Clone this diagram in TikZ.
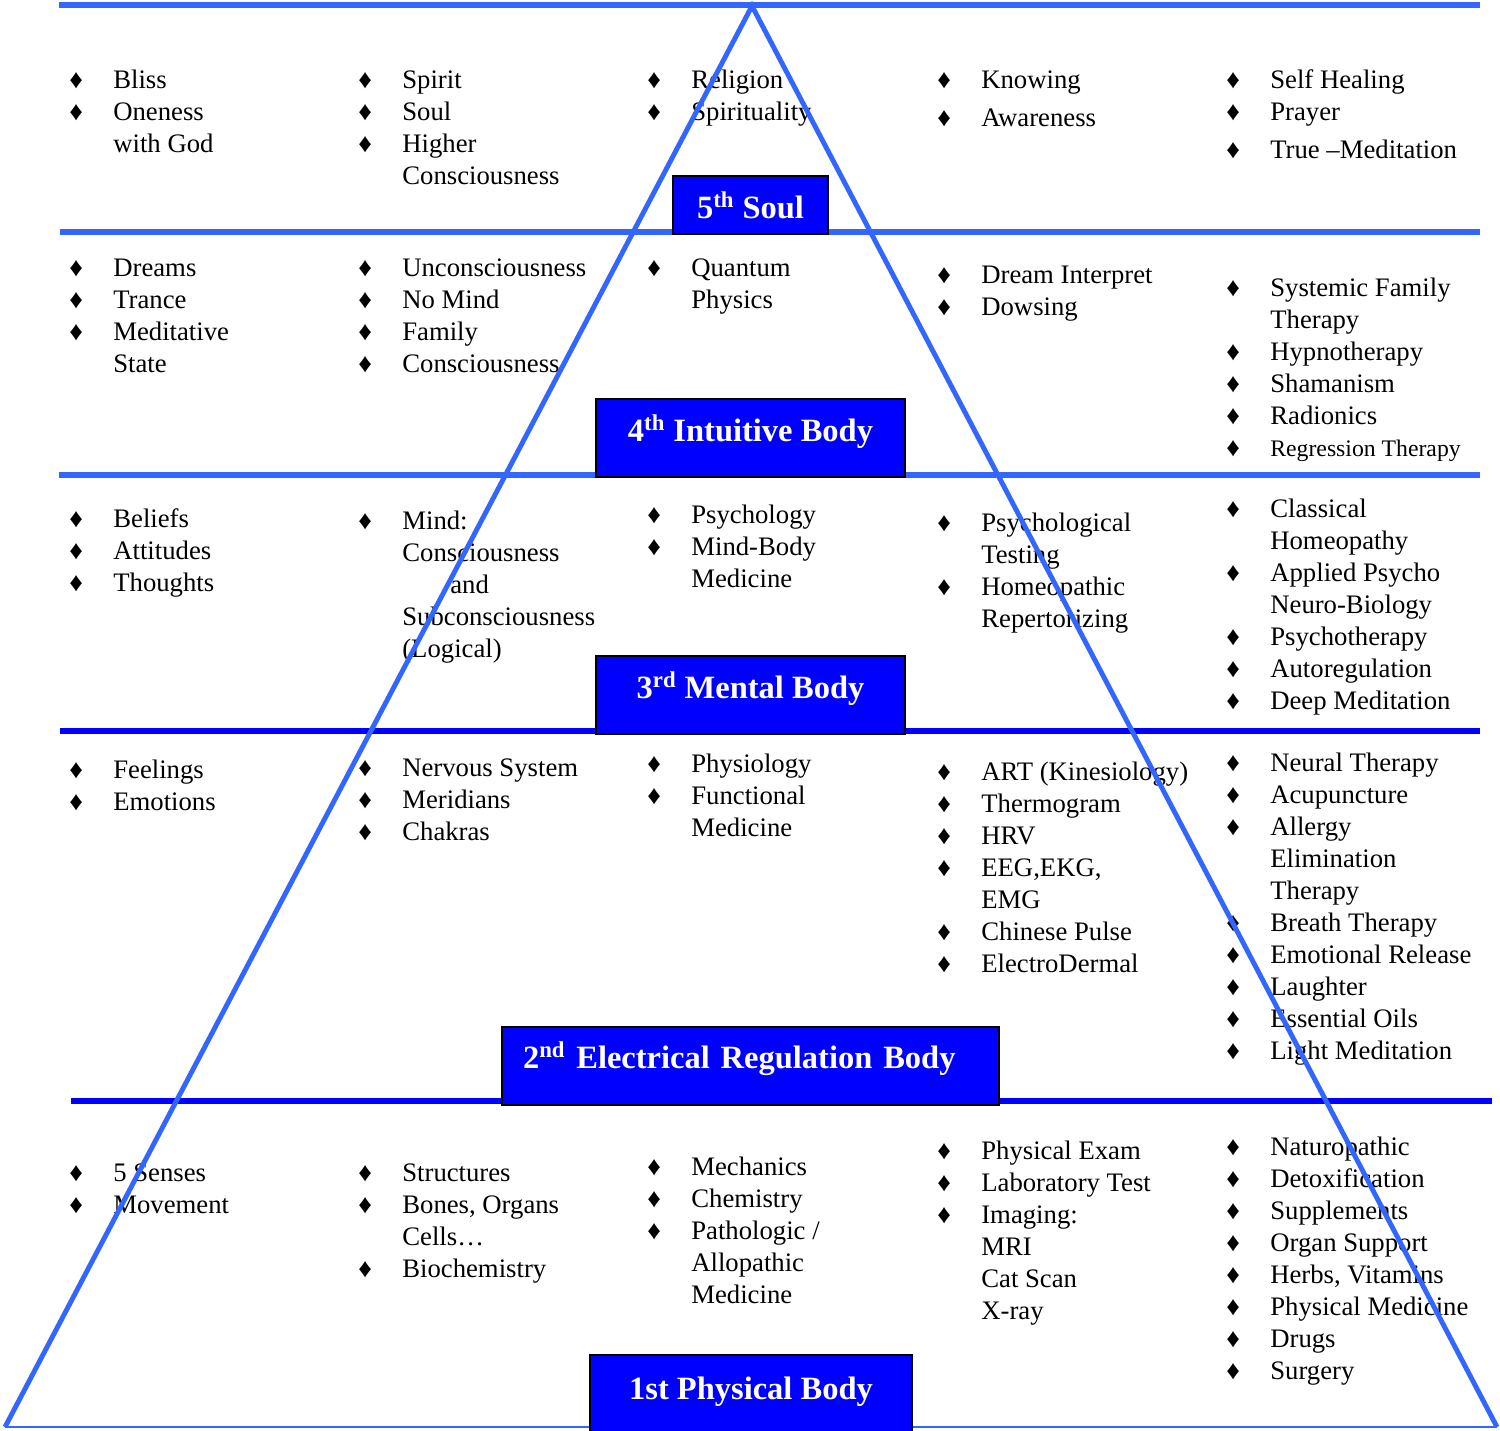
\documentclass[tikz,border=0pt]{standalone}
\usepackage{fontspec}
\setmainfont{Liberation Serif}

\definecolor{lineblue}{HTML}{3366FF}
\definecolor{boxblue}{HTML}{0000FF}

% bullet and empty bullet column
\newcommand{\bl}{\strut\makebox[0.88cm][l]{♦}}
\newcommand{\nb}{\strut\hspace*{0.88cm}}

\tikzset{
  cell/.style={anchor=north west, align=left, inner sep=0pt,
    font=\fontsize{15.2}{18.2}\selectfont},
  titlebox/.style={fill=boxblue, draw=black, line width=1.1pt, text=white,
    inner sep=0pt, text height=0.6cm, font=\bfseries\fontsize{18.5}{22}\selectfont},
  band/.style={line width=3.4pt, color=lineblue},
}

\begin{document}
\begin{tikzpicture}
[x=0.02cm,y=-0.02cm]

  \useasboundingbox (0,0) rectangle (1500,1430);

  % horizontal bands
  \draw[band] (59,5) -- (1480,5);
  \draw[band] (60,232) -- (1480,232);
  \draw[band] (59,475) -- (1480,475);
  \draw[band, color=boxblue] (60,731) -- (1480,731);
  \draw[band, color=boxblue] (71,1101) -- (1492,1101);

  % 5th
  \node[cell] (soulA) at (69,66) {\bl Bliss\\ \bl Oneness\\ \nb with God};
  \node[cell] (soulB) at (358,66) {\bl Spirit\\ \bl Soul\\ \bl Higher\\ \nb Consciousness};
  \node[cell] (soulC) at (647,66) {\bl Religion\\ \bl Spirituality};
  \node[cell] (soulD) at (937,66) {\bl Knowing\\[0.12cm] \bl Awareness};
  \node[cell] (soulE) at (1226,66) {\bl Self Healing\\ \bl Prayer\\[0.12cm] \bl True –Meditation};

  % 4th
  \node[cell] (intuA) at (69,254) {\bl Dreams\\ \bl Trance\\ \bl Meditative\\ \nb State};
  \node[cell] (intuB) at (358,254) {\bl Unconsciousness\\ \bl No Mind\\ \bl Family\\ \bl Consciousness};
  \node[cell] (intuC) at (647,254) {\bl Quantum\\ \nb Physics};
  \node[cell] (intuD) at (937,261) {\bl Dream Interpret\\ \bl Dowsing};
  \node[cell] (intuE) at (1226,274) {\bl Systemic Family\\ \nb Therapy\\ \bl Hypnotherapy\\ \bl Shamanism\\ \bl Radionics\\ \bl{\fontsize{13.5}{16}\selectfont Regression Therapy}};

  % 3rd
  \node[cell] (mentA) at (69,505) {\bl Beliefs\\ \bl Attitudes\\ \bl Thoughts};
  \node[cell] (mentB) at (358,507) {\bl Mind:\\ \nb Consciousness\\ \nb\hspace*{0.96cm}and\\ \nb Subconsciousness\\ \nb (Logical)};
  \node[cell] (mentC) at (647,501) {\bl Psychology\\ \bl Mind-Body\\ \nb Medicine};
  \node[cell] (mentD) at (937,509) {\bl Psychological\\ \nb Testing\\ \bl Homeopathic\\ \nb Repertorizing};
  \node[cell] (mentE) at (1226,495) {\bl Classical\\ \nb Homeopathy\\ \bl Applied Psycho\\ \nb Neuro-Biology\\ \bl Psychotherapy\\ \bl Autoregulation\\ \bl Deep Meditation};

  % 2nd
  \node[cell] (elecA) at (69,756) {\bl Feelings\\ \bl Emotions};
  \node[cell] (elecB) at (358,754) {\bl Nervous System\\ \bl Meridians\\ \bl Chakras};
  \node[cell] (elecC) at (647,750) {\bl Physiology\\ \bl Functional\\ \nb Medicine};
  \node[cell] (elecD) at (937,758) {\bl ART (Kinesiology)\\ \bl Thermogram\\ \bl HRV\\ \bl EEG,EKG,\\ \nb EMG\\ \bl Chinese Pulse\\ \bl ElectroDermal};
  \node[cell] (elecE) at (1226,749) {\bl Neural Therapy\\ \bl Acupuncture\\ \bl Allergy\\ \nb Elimination\\ \nb Therapy\\ \bl Breath Therapy\\ \bl Emotional Release\\ \bl Laughter\\ \bl Essential Oils\\ \bl Light Meditation};

  % 1st
  \node[cell] (physA) at (69,1159) {\bl 5 Senses\\ \bl Movement};
  \node[cell] (physB) at (358,1159) {\bl Structures\\ \bl Bones, Organs\\ \nb Cells…\\ \bl Biochemistry};
  \node[cell] (physC) at (647,1153) {\bl Mechanics\\ \bl Chemistry\\ \bl Pathologic /\\ \nb Allopathic\\ \nb Medicine};
  \node[cell] (physD) at (937,1137) {\bl Physical Exam\\ \bl Laboratory Test\\ \bl Imaging:\\ \nb MRI\\ \nb Cat Scan\\ \nb X-ray};
  \node[cell] (physE) at (1226,1133) {\bl Naturopathic\\ \bl Detoxification\\ \bl Supplements\\ \bl Organ Support\\ \bl Herbs, Vitamins\\ \bl Physical Medicine\\ \bl Drugs\\ \bl Surgery};

  % the pyramid
  \coordinate (apex) at (752,6);
  \coordinate (baseL) at (5,1427);
  \coordinate (baseR) at (1497,1427);
  \draw[lineblue, line width=2.8pt] (baseL) -- (apex) -- (baseR);
  \draw[lineblue, line width=1.4pt] (baseL) -- (baseR);

  % body labels
  \node[titlebox, minimum width=3.1cm, minimum height=1.16cm, text depth=0.06cm]
    (soul) at (750.5,205) {5\textsuperscript{th} Soul};
  \node[titlebox, minimum width=6.18cm, minimum height=1.56cm, text depth=0.46cm]
    (intuitive) at (750.5,438) {4\textsuperscript{th} Intuitive Body};
  \node[titlebox, minimum width=6.18cm, minimum height=1.56cm, text depth=0.46cm]
    (mental) at (750.5,695) {3\textsuperscript{rd} Mental Body};
  \node[titlebox, minimum width=9.94cm, minimum height=1.56cm, text depth=0.5cm,
    text width=9.1cm, inner xsep=0.42cm, align=left]
    (electrical) at (750.5,1066) {2\textsuperscript{nd} Electrical Regulation Body};
  \node[titlebox, minimum width=6.44cm, minimum height=1.54cm, text depth=0.38cm]
    (physical) at (751,1393.5) {1st Physical Body};
\end{tikzpicture}
\end{document}
